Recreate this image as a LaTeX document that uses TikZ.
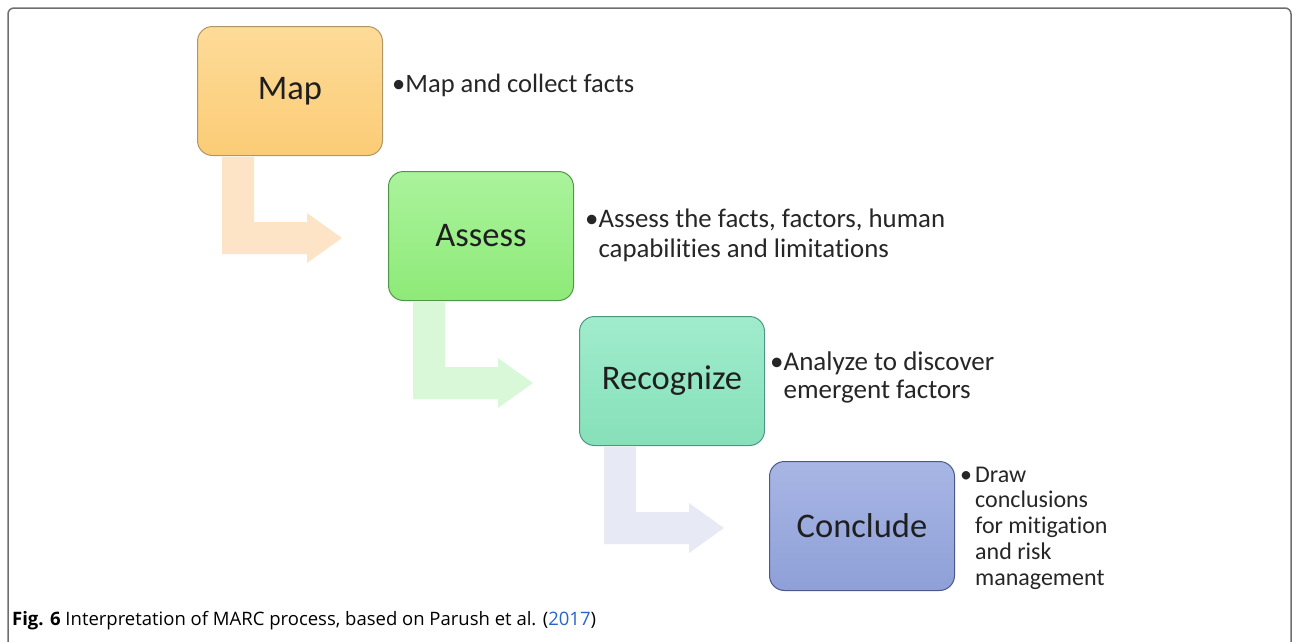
\documentclass[tikz,border=0pt]{standalone}
\usepackage{fontspec}
\setmainfont{Carlito}[Ligatures=CommonOff]
\newfontfamily\capfont{Open Sans}
\begin{document}
\begin{tikzpicture}[x=1pt,y=-1pt,
  stagebox/.style={rounded corners=15pt, minimum width=185pt, minimum height=129pt,
    line width=1pt, font=\fontsize{34.5}{40}\selectfont, text=black!88, inner sep=0pt},
  bullettext/.style={anchor=base west, inner sep=0pt, align=left, text=black!85},
  larrow/.pic={\fill[pic actions] (25,1) -- (25,98) -- (110,98) -- (110,107) -- (145,82)
     -- (110,57) -- (110,66) -- (57,66) -- (57,1) -- cycle;}
]
\definecolor{mapT}{RGB}{253,219,152}
\definecolor{mapB}{RGB}{251,204,118}
\definecolor{mapD}{RGB}{176,150,100}
\definecolor{assT}{RGB}{170,243,156}
\definecolor{assB}{RGB}{142,234,120}
\definecolor{assD}{RGB}{80,150,72}
\definecolor{recT}{RGB}{160,236,204}
\definecolor{recB}{RGB}{134,224,186}
\definecolor{recD}{RGB}{78,150,130}
\definecolor{conT}{RGB}{168,182,228}
\definecolor{conB}{RGB}{142,160,216}
\definecolor{conD}{RGB}{74,88,140}
\definecolor{arrA}{RGB}{253,228,198}
\definecolor{arrB}{RGB}{216,248,216}
\definecolor{arrC}{RGB}{231,233,245}
\definecolor{frameC}{RGB}{110,110,110}
\definecolor{linkC}{RGB}{40,100,200}
\useasboundingbox (0,0) rectangle (1293,641);
\draw[frameC, line width=1.5pt, rounded corners=6pt] (8,645) -- (8,8) -- (1291,8) -- (1291,645);

\node[stagebox, draw=mapD, top color=mapT, bottom color=mapB] (map) at (290,91) {Map};
\node[stagebox, draw=assD, top color=assT, bottom color=assB] (assess) at (481,236) {Assess};
\node[stagebox, draw=recD, top color=recT, bottom color=recB] (recog) at (672,381) {Recognize};
\node[stagebox, draw=conD, top color=conT, bottom color=conB] (concl) at (862,526) {Conclude};

\pic[fill=arrA] at (map.south west) {larrow};
\pic[fill=arrB] at (assess.south west) {larrow};
\pic[fill=arrC] at (recog.south west) {larrow};

\node[bullettext, font=\fontsize{26.5}{30}\selectfont] (tmap) at (392,92)
  {\begin{tabular}[t]{@{}l@{}l@{}}•&Map and collect facts\end{tabular}};
\node[bullettext, font=\fontsize{26.8}{30}\selectfont] (tass) at (585,227)
  {\begin{tabular}[t]{@{}l@{}l@{}}•&Assess the facts, factors, human\\ &capabilities and limitations\end{tabular}};
\node[bullettext, font=\fontsize{27}{28}\selectfont] (trec) at (770,370)
  {\begin{tabular}[t]{@{}l@{}l@{}}•&Analyze to discover\\ &emergent factors\end{tabular}};
\node[bullettext, font=\fontsize{24}{25.8}\selectfont] (tcon) at (960,482)
  {\begin{tabular}[t]{@{}l@{\hspace{3pt}}l@{}}•&Draw\\ &conclusions\\ &for mitigation\\ &and risk\\ &management\end{tabular}};

\node[anchor=base west, inner sep=0pt, font=\capfont\fontsize{18.5}{20}\selectfont] (cap) at (12,625)
  {\textbf{Fig. 6} Interpretation of MARC process, based on Parush et al. ({\color{linkC}2017})};
\end{tikzpicture}
\end{document}
